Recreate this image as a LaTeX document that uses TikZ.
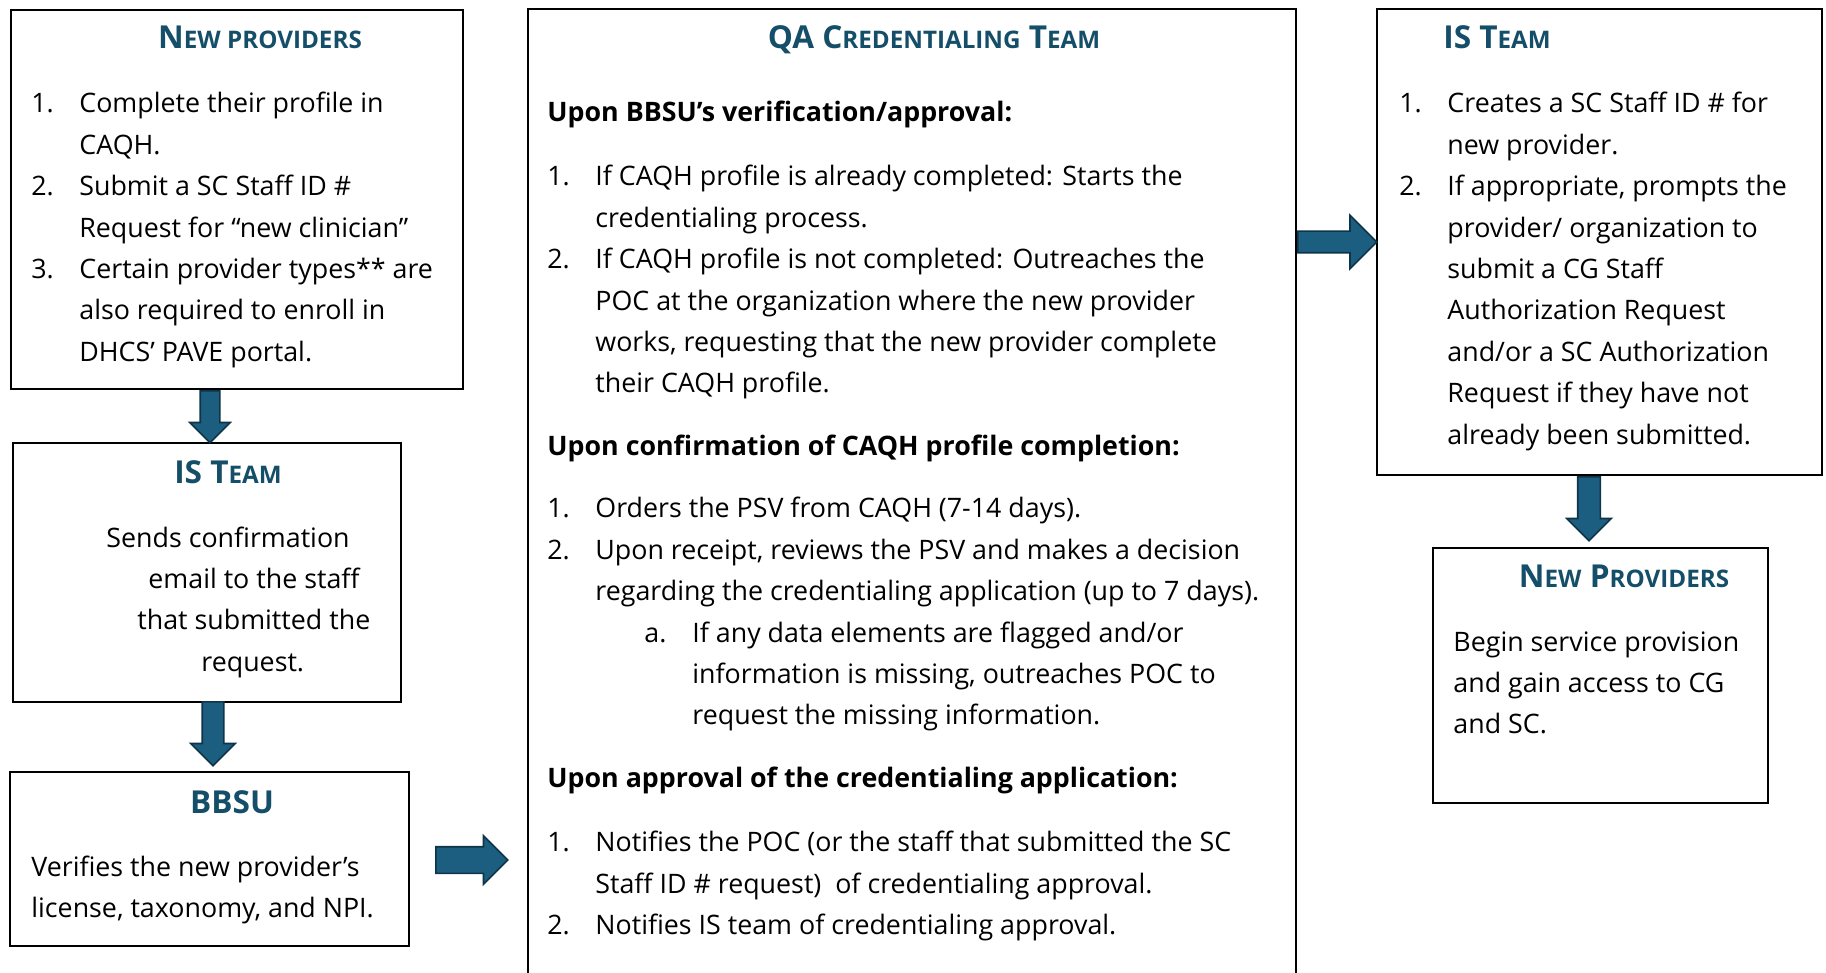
\documentclass[tikz,border=0pt]{standalone}
\usepackage{fontspec}
\setmainfont{Open Sans}
\usetikzlibrary{shapes.arrows,calc}

\definecolor{headteal}{RGB}{21,78,104}
\definecolor{arrowfill}{RGB}{27,94,128}
\definecolor{arrowline}{RGB}{14,52,72}

\newcommand\fsc[1]{{\fontsize{12.1}{14}\selectfont #1}}
\newcommand\itm[1]{\makebox[24pt][l]{#1}}
\newcommand\flowarrow[4]{%
    \path let \p1=($(#2)-(#1)$), \n1={veclen(\x1,\y1)} in (#1) -- (#2)
        node[flow, pos=0, anchor=tail, sloped, inner ysep=#3, single arrow head extend=#4, minimum height=\n1] {};}

\tikzset{
    box/.style={draw=black, line width=1pt, anchor=north west, inner sep=0pt},
    head/.style={text=headteal, font=\bfseries\fontsize{15.8}{17}\selectfont, anchor=base, inner sep=0pt},
    body/.style={font=\fontsize{13.4}{20.7}\selectfont, anchor=base west, inner sep=0pt},
    flow/.style={single arrow, fill=arrowfill, draw=arrowline, line width=0.8pt, inner xsep=0pt, minimum width=0pt}
}

\begin{document}
\begin{tikzpicture}[x=0.5pt, y=-0.5pt]
            \useasboundingbox (0,0) rectangle (1826,973);
            \node[box, minimum width=226pt, minimum height=189.5pt] (np) at (10,9) {};
            \node[box, minimum width=194pt, minimum height=129.5pt] (ist) at (12,442) {};
            \node[box, minimum width=199.5pt, minimum height=87pt] (bbsu) at (9,771) {};
            \node[box, minimum width=384pt, minimum height=488.5pt] (qa) at (527,8) {};
            \node[box, minimum width=222.5pt, minimum height=233pt] (is2) at (1376,8) {};
            \node[box, minimum width=167.5pt, minimum height=127.5pt] (np2) at (1432,547) {};

            \node[head] (nph) at (260,49) {N\fsc{EW PROVIDERS}};
            \node[head] (isth) at (228,483) {IS T\fsc{EAM}};
            \node[head] (bbsuh) at (232,813) {BBSU};
            \node[head] (qah) at (934,49) {QA C\fsc{REDENTIALING} T\fsc{EAM}};
            \node[head] (is2h) at (1497,49) {IS T\fsc{EAM}};
            \node[head] (np2h) at (1624,587) {N\fsc{EW} P\fsc{ROVIDERS}};

            \node[body] (npt) at (31,113) {\begin{tabular}[t]{@{}l@{}}
                \itm{1.}Complete their profile in\\
                \itm{}CAQH.\\
                \itm{2.}Submit a SC Staff ID \#\\
                \itm{}Request for “new clinician”\\
                \itm{3.}Certain provider types** are\\
                \itm{}also required to enroll in\\
                \itm{}DHCS’ PAVE portal.
            \end{tabular}};
            \node[body] (istt) at (106,547) {\begin{tabular}[t]{@{}l@{}}
                Sends confirmation\\
                \hspace*{21pt}email to the staff\\
                \hspace*{15.5pt}that submitted the\\
                \hspace*{47.5pt}request.
            \end{tabular}};
            \node[body] (bbsut) at (31,876) {\begin{tabular}[t]{@{}l@{}}
                Verifies the new provider’s\\
                license, taxonomy, and NPI.
            \end{tabular}};
            \node[body] (qat) at (547,122) {\begin{tabular}[t]{@{}l@{}}
                \textbf{Upon BBSU’s verification/approval:}\\[11.3pt]
                \itm{1.}If CAQH profile is already completed: Starts the\\
                \itm{}credentialing process.\\
                \itm{2.}If CAQH profile is not completed: Outreaches the\\
                \itm{}POC at the organization where the new provider\\
                \itm{}works, requesting that the new provider complete\\
                \itm{}their CAQH profile.\\[10.8pt]
                \textbf{Upon confirmation of CAQH profile completion:}\\[10.3pt]
                \itm{1.}Orders the PSV from CAQH (7-14 days).\\
                \itm{2.}Upon receipt, reviews the PSV and makes a decision\\
                \itm{}regarding the credentialing application (up to 7 days).\\
                \itm{}\hspace*{24.5pt}\itm{a.}If any data elements are flagged and/or\\
                \itm{}\hspace*{24.5pt}\itm{}information is missing, outreaches POC to\\
                \itm{}\hspace*{24.5pt}\itm{}request the missing information.\\[10.8pt]
                \textbf{Upon approval of the credentialing application:}\\[11.3pt]
                \itm{1.}Notifies the POC (or the staff that submitted the SC\\
                \itm{}Staff ID \# request)~ of credentialing approval.\\
                \itm{2.}Notifies IS team of credentialing approval.
            \end{tabular}};
            \node[body] (is2t) at (1399,113) {\begin{tabular}[t]{@{}l@{}}
                \itm{1.}Creates a SC Staff ID \# for\\
                \itm{}new provider.\\
                \itm{2.}If appropriate, prompts the\\
                \itm{}provider/ organization to\\
                \itm{}submit a CG Staff\\
                \itm{}Authorization Request\\
                \itm{}and/or a SC Authorization\\
                \itm{}Request if they have not\\
                \itm{}already been submitted.
            \end{tabular}};
            \node[body] (np2t) at (1453,651) {\begin{tabular}[t]{@{}l@{}}
                Begin service provision\\
                and gain access to CG\\
                and SC.
            \end{tabular}};

            \flowarrow{$(np.south)+(-27,0)$}{$(ist.north)+(3,0)$}{4.5pt}{5.25pt}
            \flowarrow{$(ist.south)+(6,-2)$}{$(bbsu.north)+(3.5,-6)$}{5pt}{5.75pt}
            \flowarrow{$(bbsu.east)+(25,1)$}{$(qa.west |- bbsu.east)+(-20,1)$}{6.25pt}{5.5pt}
            \flowarrow{qa.east |- is2.west}{is2.west}{5pt}{8pt}
            \flowarrow{$(is2.south)+(-10.5,0)$}{$(np2.north)+(-11.5,-7)$}{5.25pt}{5.5pt}
\end{tikzpicture}
\end{document}
